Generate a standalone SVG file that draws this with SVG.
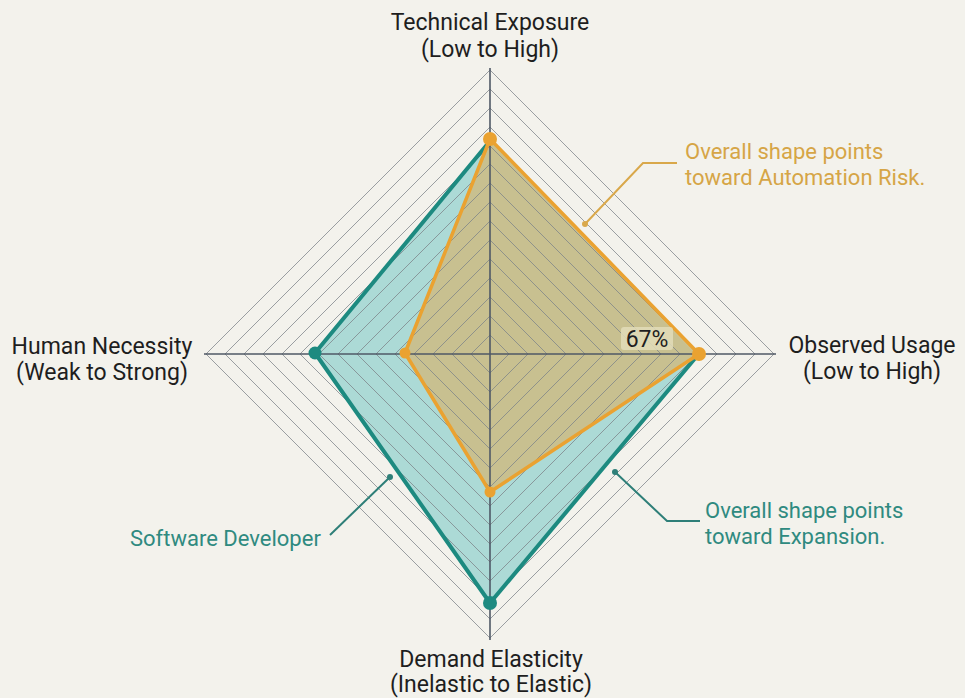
<svg xmlns="http://www.w3.org/2000/svg" width="965" height="698" viewBox="0 0 965 698">
<style>
.lbl{font-family:Roboto,"Liberation Sans",sans-serif;font-size:23px;fill:#1e1e1e;text-anchor:middle}
.ann{font-family:Roboto,"Liberation Sans",sans-serif;font-size:22px}
.grid{fill:none;stroke:#7d8388;stroke-width:1;opacity:0.75}
.axis{stroke:#4f5866;stroke-width:1.6}
</style>
<rect width="965" height="698" fill="#f3f2ec"/>
<g id="fills">
<polygon points="490,140 697,356 490,603 315,353" fill="#9fd6d2" fill-opacity="0.85"/>
<polygon points="490,139 699,354 490,492 405,353" fill="#c9bf8c" fill-opacity="0.95"/>
</g>
<g id="grid" class="grid">
<polygon points="490,70 774,354 490,638 206,354"/>
<polygon points="490,89 755,354 490,619 225,354"/>
<polygon points="490,108 736,354 490,600 244,354"/>
<polygon points="490,127 717,354 490,581 263,354"/>
<polygon points="490,146 698,354 490,562 282,354"/>
<polygon points="490,164 680,354 490,544 300,354"/>
<polygon points="490,183 661,354 490,525 319,354"/>
<polygon points="490,202 642,354 490,506 338,354"/>
<polygon points="490,221 623,354 490,487 357,354"/>
<polygon points="490,240 604,354 490,468 376,354"/>
<polygon points="490,259 585,354 490,449 395,354"/>
<polygon points="490,278 566,354 490,430 414,354"/>
<polygon points="490,297 547,354 490,411 433,354"/>
<polygon points="490,316 528,354 490,392 452,354"/>
<polygon points="490,335 509,354 490,373 471,354"/>
</g>
<g id="axes">
<line class="axis" x1="490" y1="68" x2="490" y2="640"/>
<line class="axis" x1="204" y1="354" x2="776" y2="354"/>
</g>
<g id="series-teal">
<polyline points="697,356 490,603 315,353 490,141" fill="none" stroke="#1d8a80" stroke-width="4" stroke-linejoin="round"/>
<circle cx="315" cy="353" r="6.5" fill="#1d8a80"/>
<circle cx="490" cy="603" r="7" fill="#1d8a80"/>
</g>
<g id="series-orange">
<polygon points="490,139 699,354 490,492 405,353" fill="none" stroke="#eaa231" stroke-width="3.5" stroke-linejoin="round"/>
<circle cx="490" cy="139" r="7" fill="#eaa231"/>
<circle cx="699" cy="354" r="7" fill="#eaa231"/>
<circle cx="405" cy="353" r="5.5" fill="#eaa231"/>
<circle cx="490" cy="492" r="5.5" fill="#eaa231"/>
</g>
<g id="value-label">
<rect x="621" y="327" width="52" height="23" rx="3" fill="#e2dcba" fill-opacity="0.85"/>
<text x="647" y="347" class="ann" fill="#1e1e1e" text-anchor="middle" style="font-size:23px">67%</text>
</g>
<g id="axis-labels">
<text class="lbl" x="490" y="30">Technical Exposure</text>
<text class="lbl" x="490" y="57">(Low to High)</text>
<text class="lbl" x="102" y="354">Human Necessity</text>
<text class="lbl" x="102" y="380">(Weak to Strong)</text>
<text class="lbl" x="872" y="353">Observed Usage</text>
<text class="lbl" x="872" y="379">(Low to High)</text>
<text class="lbl" x="491" y="667">Demand Elasticity</text>
<text class="lbl" x="491" y="692">(Inelastic to Elastic)</text>
</g>
<g id="connectors" fill="none" stroke-width="2">
<polyline points="585,224 643,163 677,163" stroke="#d9a84a"/>
<polyline points="615,472 667,521 700,521" stroke="#2e7f78"/>
<polyline points="330,535 390,477" stroke="#2e7f78"/>
<circle cx="585" cy="224" r="3" fill="#d9a84a" stroke="none"/>
<circle cx="615" cy="472" r="3" fill="#2e7f78" stroke="none"/>
<circle cx="390" cy="477" r="3" fill="#2e7f78" stroke="none"/>
</g>
<g id="annotation-orange">
<text class="ann" x="685" y="159" fill="#d6a546">Overall shape points</text>
<text class="ann" x="685" y="185" fill="#d6a546">toward Automation Risk.</text>
</g>
<g id="annotation-teal">
<text class="ann" x="705" y="518" fill="#2f8a80">Overall shape points</text>
<text class="ann" x="705" y="544" fill="#2f8a80">toward Expansion.</text>
</g>
<g id="annotation-dev">
<text class="ann" x="130" y="546" fill="#2f8a80">Software Developer</text>
</g>
</svg>
